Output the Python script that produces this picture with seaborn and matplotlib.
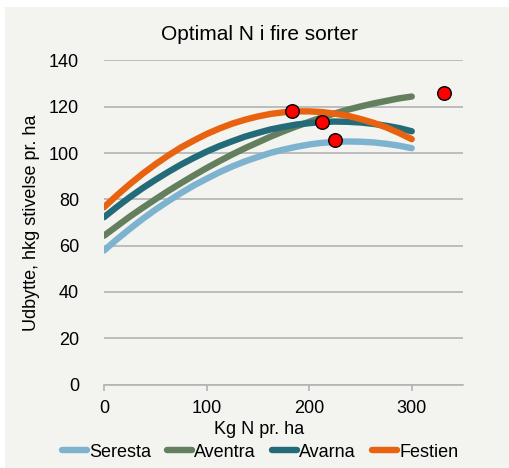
import numpy as np
import pandas as pd
import matplotlib.pyplot as plt
import seaborn as sns
from matplotlib.lines import Line2D
from matplotlib.patches import Rectangle

# values (every 12.5 kg N)
kg_n = [0, 12.5, 25, 37.5, 50, 62.5, 75, 87.5, 100, 112.5, 125, 137.5, 150,
        162.5, 175, 187.5, 200, 212.5, 225, 237.5, 250, 262.5, 275, 287.5, 300]
seresta = [57.9, 62.7, 67.2, 71.5, 75.5, 79.2, 82.7, 86.0, 88.9, 91.7, 94.2, 96.4, 98.3,
           100.1, 101.5, 102.7, 103.7, 104.4, 104.8, 105.0, 104.9, 104.6, 104.0, 103.2, 102.1]
aventra = [64.3, 68.4, 72.5, 76.3, 80.0, 83.6, 87.0, 90.3, 93.5, 96.5, 99.4, 102.1, 104.6,
           107.1, 109.4, 111.5, 113.5, 115.4, 117.1, 118.7, 120.1, 121.4, 122.5, 123.6, 124.4]
avarna = [72.3, 76.7, 80.9, 84.8, 88.4, 91.8, 95.0, 97.9, 100.6, 103.0, 105.1, 107.1, 108.7,
          110.2, 111.3, 112.3, 112.9, 113.4, 113.6, 113.5, 113.2, 112.6, 111.8, 110.8, 109.4]
festien = [76.6, 81.7, 86.5, 91.0, 95.1, 98.9, 102.4, 105.4, 108.2, 110.6, 112.7, 114.4, 115.8,
           116.9, 117.6, 118.0, 118.0, 117.7, 117.0, 116.1, 114.7, 113.1, 111.1, 108.7, 106.0]

sorter = ["Seresta", "Aventra", "Avarna", "Festien"]
farver = ["#7eb3d0", "#637f5e", "#236b78", "#e8620f"]

# optimum points (red dots)
opt_x = [183, 213, 225, 331]
opt_y = [118.2, 113.2, 105.7, 125.9]

df = pd.DataFrame({
    "N": kg_n * 4,
    "Udbytte": seresta + aventra + avarna + festien,
    "Sort": sum([[s] * len(kg_n) for s in sorter], []),
})
opt = pd.DataFrame({"N": opt_x, "Udbytte": opt_y})

sns.set_theme(style="white")
plt.rcParams["font.family"] = ["Liberation Sans", "DejaVu Sans"]
plt.rcParams["text.color"] = "black"

bg = "#f3f3ef"
fig = plt.figure(figsize=(5.1, 4.68), dpi=100, facecolor="white")
fig.patches.append(Rectangle((5 / 510, 0), 504 / 510, 461 / 468,
                             transform=fig.transFigure, facecolor=bg,
                             edgecolor="none", zorder=-10))
ax = fig.add_axes([0.2039, 0.1782, 0.704, 0.6927])
ax.set_facecolor(bg)

sns.lineplot(data=df, x="N", y="Udbytte", hue="Sort", hue_order=sorter,
             palette=farver, lw=4.6, legend=False, ax=ax,
             solid_capstyle="round")
sns.scatterplot(data=opt, x="N", y="Udbytte", s=95, color="#ff0000",
                edgecolor="black", linewidth=1, zorder=5, ax=ax)

ax.set_xlim(0, 350)
ax.set_ylim(0, 140)
ax.set_xticks([0, 100, 200, 300])
ax.set_yticks(range(0, 141, 20))
ax.yaxis.grid(True, color="#b3b3b3", lw=1.2)
ax.set_axisbelow(True)
for s in ["top", "right", "left"]:
    ax.spines[s].set_visible(False)
ax.spines["bottom"].set_color("#b3b3b3")
ax.spines["bottom"].set_linewidth(1.2)
ax.tick_params(axis="x", bottom=True, length=4, width=1.2, color="#b3b3b3",
               labelsize=13, pad=7, labelcolor="black")
ax.tick_params(axis="y", left=False, labelsize=13, pad=12, labelcolor="black")

# title and x label are centred on the figure, not the plot area
ax.set_title("Optimal N i fire sorter", fontsize=15, pad=14.5, color="black", x=0.432)
ax.set_xlabel("Kg N pr. ha", fontsize=13, labelpad=3, color="black")
ax.xaxis.label.set_x(0.432)
ax.set_ylabel("Udbytte, hkg stivelse pr. ha", fontsize=13, labelpad=6, color="black")

handles = [Line2D([0], [0], color=c, lw=4.6, solid_capstyle="round") for c in farver]
fig.legend(handles, sorter, loc="center", bbox_to_anchor=(0.51, 0.034),
           ncol=4, frameon=False, fontsize=13, handlelength=1.4,
           handletextpad=0.1, columnspacing=0.9, labelcolor="black")

fig.savefig("out.png", dpi=100, facecolor="white")
